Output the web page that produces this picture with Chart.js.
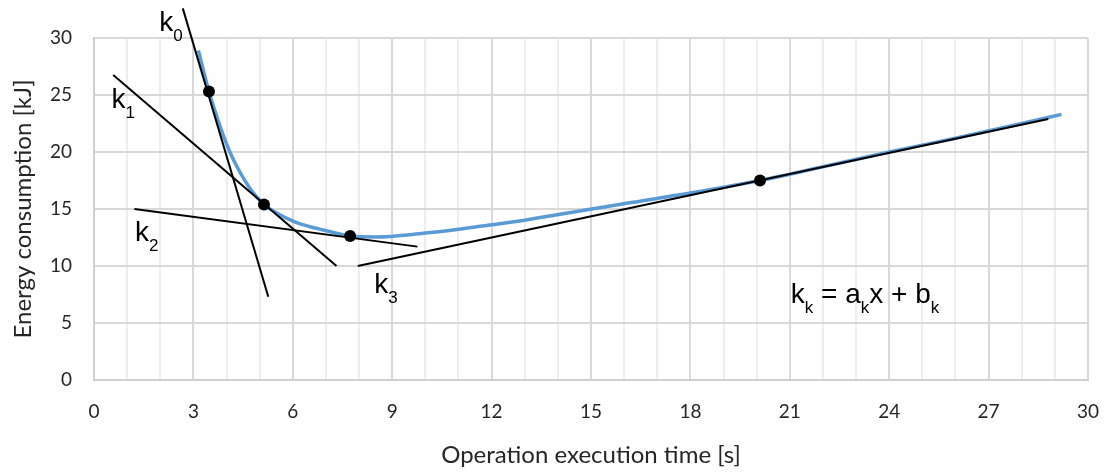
<!DOCTYPE html>
<html>
<head>
<meta charset="utf-8">
<script src="https://cdn.jsdelivr.net/npm/chart.js@4"></script>
<style>
  html, body { margin: 0; padding: 0; background: #fff; }
  #wrap { width: 1107px; height: 472px; }
</style>
</head>
<body>
<div id="wrap"><canvas id="chart" width="1107" height="472"></canvas></div>
<script>
// ----------------------------
// Data
// ----------------------------
const curveX = [3.15, 3.47, 3.8, 4.1, 4.41, 4.71, 5.13, 5.61, 5.92, 6.22, 6.92, 7.73, 8.5, 9.94, 10.95, 11.95, 12.96, 13.97, 14.97, 16.07, 18.0, 20.1, 22.0, 24.0, 26.0, 28.0, 29.2];
const curveY = [28.9, 25.3, 22.3, 20.0, 18.2, 16.8, 15.4, 14.5, 14.05, 13.7, 13.16, 12.63, 12.55, 12.87, 13.2, 13.6, 14.0, 14.5, 14.97, 15.5, 16.4, 17.5, 18.7, 20.0, 21.2, 22.5, 23.3];

const dotX = [3.47, 5.13, 7.73, 20.1];
const dotY = [25.3, 15.4, 12.63, 17.5];

// tangent lines k0..k3: start and end points
const tangentX = [[2.68, 5.26], [0.58, 7.32], [1.22, 9.76], [7.96, 28.8]];
const tangentY = [[32.6, 7.3], [26.75, 10.0], [15.0, 11.7], [10.0, 22.9]];

const xTicks = [0, 3, 6, 9, 12, 15, 18, 21, 24, 27, 30];
const yTicks = [0, 5, 10, 15, 20, 25, 30];

// text annotations: [main, sub, main, sub, ...] anchored in data units
const notes = [
  { parts: ["k", "0"], x: 1.97, y: 30.64 },
  { parts: ["k", "1"], x: 0.53, y: 23.83 },
  { parts: ["k", "2"], x: 1.24, y: 12.19 },
  { parts: ["k", "3"], x: 8.46, y: 7.6 },
  { parts: ["k", "k", " = a", "k", "x + b", "k"], x: 21.03, y: 6.73 }
];

// ----------------------------
// Build datasets
// ----------------------------
const toPts = (xs, ys) => xs.map((x, i) => ({ x: x, y: ys[i] }));

const datasets = [];
tangentX.forEach((xs, i) => {
  datasets.push({
    data: toPts(xs, tangentY[i]),
    showLine: true, borderColor: "#000", borderWidth: 2,
    pointRadius: 0, clip: false, order: 2
  });
});
datasets.push({
  data: toPts(curveX, curveY),
  showLine: true, borderColor: "#5b9bd5", borderWidth: 3.5,
  cubicInterpolationMode: "monotone", pointRadius: 0, order: 3
});
datasets.push({
  data: toPts(dotX, dotY),
  showLine: false, pointRadius: 6, pointBackgroundColor: "#000",
  pointBorderWidth: 0, order: 1
});

// ----------------------------
// Annotation plugin (k labels)
// ----------------------------
const notePlugin = {
  id: "notes",
  afterDatasetsDraw(chart) {
    const ctx = chart.ctx;
    const xs = chart.scales.x, ys = chart.scales.y;
    ctx.save();
    ctx.fillStyle = "#000";
    ctx.textBaseline = "alphabetic";
    ctx.textAlign = "left";
    notes.forEach(n => {
      let px = xs.getPixelForValue(n.x);
      const py = ys.getPixelForValue(n.y);
      n.parts.forEach((t, i) => {
        const sub = i % 2 === 1;
        ctx.font = sub ? "17px 'Liberation Sans'" : "28px 'Liberation Sans'";
        ctx.fillText(t, px, sub ? py + 10 : py);
        px += ctx.measureText(t).width;
      });
    });
    ctx.restore();
  }
};

// ----------------------------
// Chart
// ----------------------------
const tickFont = { family: "Lato", size: 19 };
const titleFont = { family: "Lato", size: 24 };
const gridMajor = "#d9d9d9";
const gridMinor = "#eeeeee";

new Chart(document.getElementById("chart"), {
  type: "scatter",
  data: { datasets: datasets },
  options: {
    responsive: false,
    animation: false,
    layout: { padding: { top: 38, right: 19, left: 0, bottom: 0 } },
    plugins: { legend: { display: false }, tooltip: { enabled: false } },
    scales: {
      x: {
        type: "linear", min: 0, max: 30,
        afterBuildTicks: s => { s.ticks = Array.from({ length: 31 }, (_, i) => ({ value: i })); },
        afterFit: s => { s.height = 92; s.paddingRight = 0; s.paddingLeft = 0; },
        ticks: {
          autoSkip: false, maxRotation: 0, color: "#262626", font: tickFont, padding: 20,
          callback: v => (xTicks.includes(v) ? String(v) : "")
        },
        grid: {
          color: c => (c.tick && c.tick.value % 3 === 0 ? gridMajor : gridMinor),
          lineWidth: 2, drawTicks: false
        },
        border: { color: "#d0d0d0", width: 2 },
        title: {
          display: true, text: "Operation execution time [s]",
          color: "#262626", font: titleFont, padding: { top: 10, bottom: 2 }
        }
      },
      y: {
        type: "linear", min: 0, max: 30,
        afterBuildTicks: s => { s.ticks = yTicks.map(v => ({ value: v })); },
        afterFit: s => { s.width = 94; },
        ticks: { color: "#262626", font: tickFont, padding: 22 },
        grid: { color: gridMajor, lineWidth: 2, drawTicks: false },
        border: { color: "#d0d0d0", width: 2 },
        title: {
          display: true, text: "Energy consumption [kJ]",
          color: "#262626", font: titleFont, padding: { top: 9, bottom: 0 }
        }
      }
    }
  },
  plugins: [notePlugin]
});
</script>
</body>
</html>
